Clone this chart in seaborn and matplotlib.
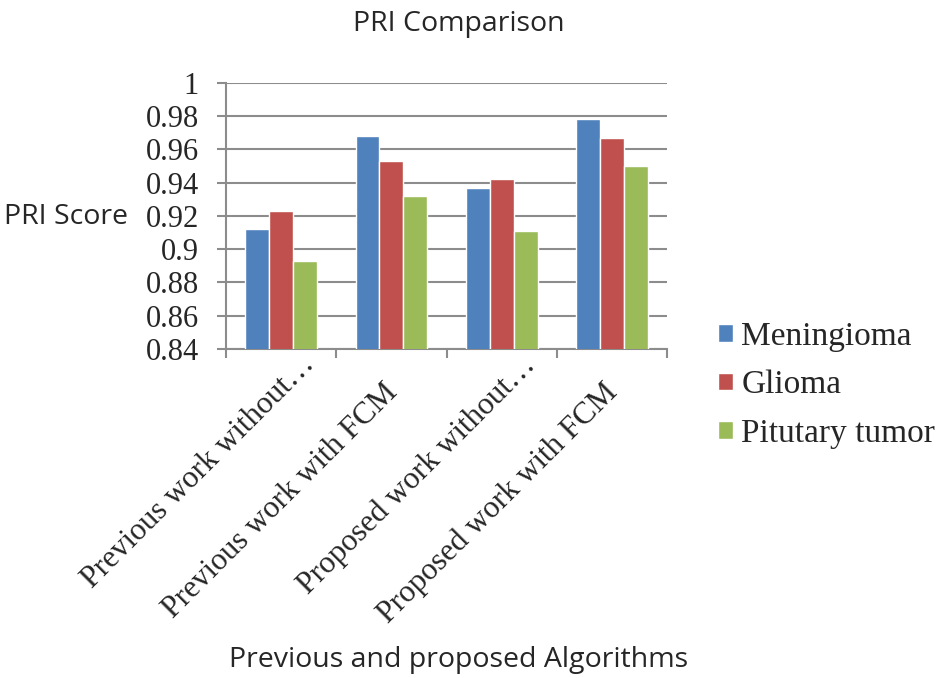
import numpy as np
import pandas as pd
import seaborn as sns
from matplotlib import pyplot as plt
from matplotlib.transforms import ScaledTranslation

sns.set_style("white")
plt.rcParams['font.family'] = ['Liberation Serif', 'DejaVu Serif']

algorithms = ["Previous work without\u2026", "Previous work with FCM",
              "Proposed work without\u2026", "Proposed work with FCM"]
tumors = ["Meningioma", "Glioma", "Pitutary tumor"]
meningioma = [0.912, 0.968, 0.937, 0.978]
glioma = [0.923, 0.953, 0.942, 0.967]
pituitary = [0.893, 0.932, 0.911, 0.950]
colors = ["#4F81BD", "#C0504D", "#9BBB59"]

df = pd.DataFrame({
    "algorithm": algorithms * 3,
    "tumor": np.repeat(tumors, 4),
    "score": meningioma + glioma + pituitary,
})

fig = plt.figure(figsize=(9.36, 6.78), dpi=100)
ax = fig.add_axes([0.2415, 0.4853, 0.4712, 0.3928])
sns.barplot(data=df, x="algorithm", y="score", hue="tumor", palette=colors,
            width=0.65, ax=ax, legend=True, saturation=1, zorder=3)

ax.set_ylim(0.84, 1.0)
ax.set_xlim(-0.5, 3.5)
ax.set_yticks(np.arange(0.84, 1.001, 0.02))
ax.set_yticklabels(["0.84", "0.86", "0.88", "0.9", "0.92", "0.94", "0.96", "0.98", "1"])
ax.yaxis.grid(True, color="#8c8c8c", linewidth=1.5, zorder=0)
ax.set_axisbelow(True)

for s in ["top", "right"]:
    ax.spines[s].set_visible(False)
for s in ["left", "bottom"]:
    ax.spines[s].set_color("#8c8c8c")
    ax.spines[s].set_linewidth(1.5)

ax.tick_params(axis="y", length=6.5, width=1.5, color="#8c8c8c", labelsize=22, left=True, pad=13)
ax.set_xticks(np.arange(-0.5, 3.6, 1), minor=True)
ax.tick_params(axis="x", which="major", length=0, labelsize=22.5, pad=8)
ax.tick_params(axis="x", which="minor", length=6.5, width=1.5, color="#8c8c8c", bottom=True)
plt.setp(ax.get_xticklabels(), rotation=45, ha="right", rotation_mode="anchor")
# truncated labels sit a bit further right than the full ones
for lab in ax.get_xticklabels():
    if lab.get_text().endswith("\u2026"):
        dx, dy = 0.19, 0.10
    else:
        dx, dy = -0.09, -0.18
    lab.set_transform(lab.get_transform() + ScaledTranslation(dx, dy, fig.dpi_scale_trans))

ax.set_xlabel("")
ax.set_ylabel("")
sans = ["Open Sans", "DejaVu Sans"]
fig.text(0.49, 0.965, "PRI Comparison", ha="center", va="center", fontsize=20.5, family=sans)
fig.text(0.0705, 0.68, "PRI Score", ha="center", va="center", fontsize=20.5, family=sans)
fig.text(0.49, 0.027, "Previous and proposed Algorithms", ha="center", va="center", fontsize=20.5, family=sans)

handles, labels = ax.get_legend_handles_labels()
ax.legend_.remove()
fig.legend(handles, labels, loc="center left", bbox_to_anchor=(0.735, 0.432), frameon=False,
           fontsize=24, handlelength=0.45, handleheight=0.45, handletextpad=0.25, labelspacing=0.55)

fig.savefig("out.png", dpi=100)
